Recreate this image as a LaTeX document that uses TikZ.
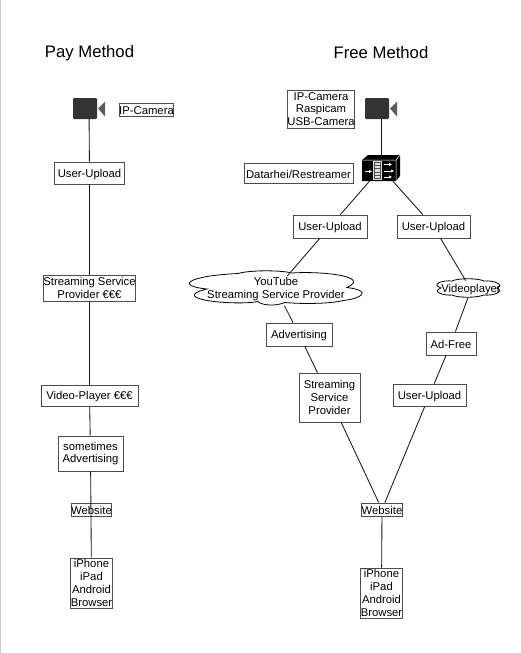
\documentclass[tikz,border=0pt]{standalone}
\usepackage{fontspec}
\setmainfont{Liberation Sans}
\usetikzlibrary{arrows.meta}
\definecolor{boxedge}{gray}{0.3}
\definecolor{camfill}{gray}{0.2}
\tikzset{
  px/.style={x=1pt,y=-1pt},
  title/.style={font=\fontsize{16.7}{20}\selectfont,inner sep=0pt},
  labelbox/.style={draw=boxedge,fill=white,line width=0.8pt,inner sep=0pt,align=center,
    font=\fontsize{11.3}{12.8}\selectfont,execute at begin node={\rule{0pt}{10.8pt}}},
  plain/.style={inner sep=0pt,align=center,font=\fontsize{11.3}{12.8}\selectfont},
  iconspot/.style={inner sep=0pt,minimum width=32pt,minimum height=21pt},
  wire/.style={draw=black!90,line width=0.85pt},
  cloudline/.style={draw=black,fill=white,line width=0.8pt},
  packetarrow/.style={draw=white,line width=0.8pt,-{Latex[length=2.8pt,width=3.2pt]}}
}
\newcommand{\boxnode}[6]{%
  \node[labelbox,minimum width=#2pt,minimum height=#3pt] (#1) at (#4,#5) {#6};}
\newcommand{\camicon}[2]{%
  \fill[camfill,rounded corners=1.2pt] (#1-16,#2-10.5) rectangle (#1+8,#2+10.5);
  \fill[camfill!80!white] (#1+9,#2) -- (#1+16,#2-7) -- (#1+16,#2+8) -- cycle;}
\begin{document}
\begin{tikzpicture}[px]
\useasboundingbox (0,0) rectangle (520,653);
\fill[white] (0,0) rectangle (520,653);
\fill[black!20] (0,0) rectangle (1.3,653);

\node[title] (payt) at (89.5,52.8) {Pay Method};
\node[title] (freet) at (381,52.8) {Free Method};

% icons as named spots
\node[iconspot] (camA) at (89,108.5) {};
\camicon{89}{108.5}
\node[iconspot] (camB) at (381,108.5) {};
\camicon{381}{108.5}
\node[inner sep=0pt,minimum width=38pt,minimum height=26pt] (rs) at (381,168) {};
\fill[black] (362,160) -- (368,155) -- (400,155) -- (400,176) -- (396,181) -- (362,181) -- cycle;
\draw[white,line width=0.5pt] (362,160) -- (396,160) -- (400,155) (396,160) -- (396,181);
\fill[black!12] (373,161) rectangle (382,180);
\foreach \yy in {165,168.5,172,175.5} \draw[black!70,line width=0.5pt] (374.5,\yy) -- (380.5,\yy);
\draw[black!70,line width=0.4pt] (374.5,162.5) rectangle (380.5,178.5);
\draw[packetarrow] (364.5,171.5) -- (372,171.5);
\draw[packetarrow] (384,164.5) -- (392,164.5);
\draw[packetarrow] (384,171) -- (394,171);
\draw[packetarrow] (384,177) -- (392,177);

% clouds
\draw[cloudline] (207,289)
  .. controls (176,286) and (186,276) .. (238,273.5)
  .. controls (250,270) and (280,270) .. (292,273)
  .. controls (320,271) and (372,276) .. (347,287.5)
  .. controls (374,291) and (360,299) .. (343,300.5)
  .. controls (330,304) and (300,304) .. (285,302.5)
  .. controls (275,306.5) and (262,305.5) .. (258,301.5)
  .. controls (235,306) and (166,299) .. (207,289) -- cycle;
\draw[cloudline] (441,288)
  .. controls (430,284) and (443,280) .. (452,281)
  .. controls (458,278) and (478,278) .. (484,281)
  .. controls (494,280) and (505,285) .. (497,288)
  .. controls (505,292) and (492,296) .. (484,295)
  .. controls (476,298) and (458,298) .. (452,295)
  .. controls (446,296) and (430,292) .. (441,288) -- cycle;
\node[plain] (yt) at (276,289) {YouTube\\Streaming Service Provider};
\node[plain] (vp) at (471,289.5) {Videoplayer};

% pay column
\boxnode{ipa}{53}{13}{146.5}{109.5}{IP-Camera}
\boxnode{uua}{70}{22}{89.5}{173}{User-Upload}
\boxnode{ssa}{89}{26}{89.5}{288}{Streaming Service\\Provider €€€}
\boxnode{vpa}{97}{21}{89.5}{395.5}{Video-Player €€€}
\boxnode{ada}{65}{35}{90.5}{453.5}{sometimes\\Advertising}
\boxnode{wsa}{40}{13}{91.5}{509.5}{Website}
\boxnode{dva}{41}{50}{91.5}{583}{iPhone\\iPad\\Android\\Browser}

% free column
\boxnode{ipb}{65}{38}{321}{109}{IP-Camera\\Raspicam\\USB-Camera}
\boxnode{drb}{109}{20}{298.5}{173}{Datarhei/Restreamer}
\boxnode{uub}{74}{23}{330}{226.5}{User-Upload}
\boxnode{uuc}{73}{23}{433.5}{226.5}{User-Upload}
\boxnode{adb}{66}{23}{299}{334.5}{Advertising}
\boxnode{afc}{50}{23}{451}{343.5}{Ad-Free}
\boxnode{ssb}{61}{49}{329.5}{397.5}{Streaming\\Service\\Provider}
\boxnode{uud}{73}{22}{429.5}{395}{User-Upload}
\boxnode{wsb}{40}{13}{382}{509.5}{Website}
\boxnode{dvb}{41}{50}{381.5}{593}{iPhone\\iPad\\Android\\Browser}

% connectors
\draw[wire] (camA) -- (uua);
\draw[wire] (uua) -- (ssa);
\draw[wire] (ssa) -- (vpa);
\draw[wire] (vpa) -- (ada);
\draw[wire] (ada) -- (dva);
\draw[wire] (camB) -- (rs);
\draw[wire] (rs) -- (uub);
\draw[wire] (rs) -- (uuc);
\path (uub.center) -- (yt.center) coordinate[pos=0.79] (ytin);
\draw[wire] (uub) -- (ytin);
\path (yt.center) -- (adb.center) coordinate[pos=0.37] (ytout);
\draw[wire] (ytout) -- (adb);
\draw[wire] (adb) -- (ssb);
\draw[wire] (ssb) -- (wsb);
\path (uuc.center) -- (vp.center) coordinate[pos=0.86] (vpin);
\draw[wire] (uuc) -- (vpin);
\path (vp.center) -- (afc.center) coordinate[pos=0.16] (vpout);
\draw[wire] (vpout) -- (afc);
\draw[wire] (afc) -- (uud);
\draw[wire] (uud) -- (wsb);
\draw[wire] (wsb) -- (dvb);
\end{tikzpicture}
\end{document}
